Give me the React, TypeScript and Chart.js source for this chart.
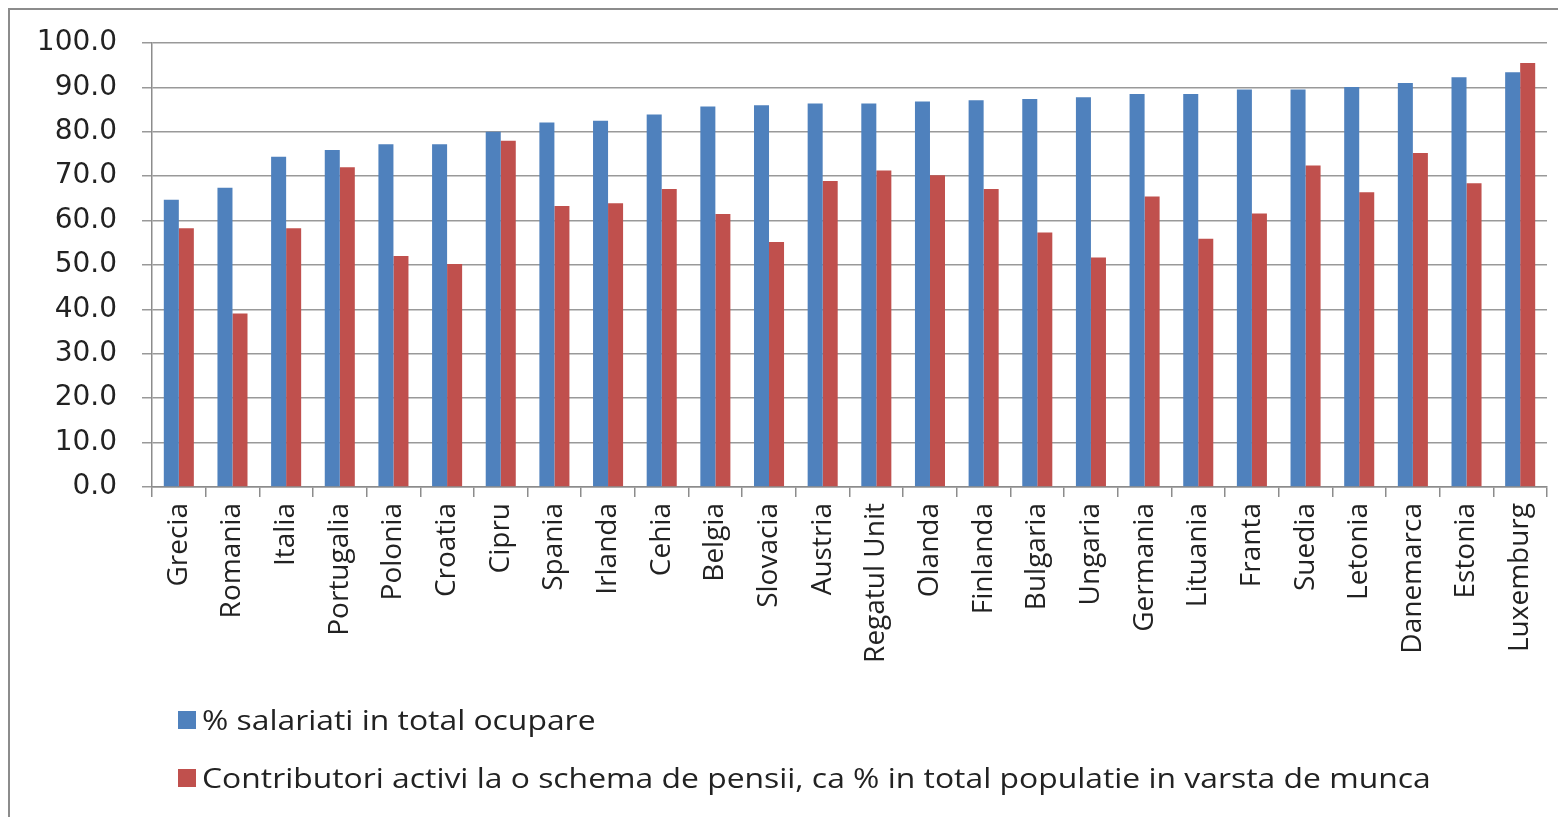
import React, { useEffect, useRef } from "react";
import { Chart, registerables } from "chart.js";

Chart.register(...registerables);

const categories = ["Grecia","Romania","Italia","Portugalia","Polonia","Croatia","Cipru","Spania","Irlanda","Cehia","Belgia","Slovacia","Austria","Regatul Unit","Olanda","Finlanda","Bulgaria","Ungaria","Germania","Lituania","Franta","Suedia","Letonia","Danemarca","Estonia","Luxemburg"];
const salariati = [64.7,67.4,74.4,75.9,77.2,77.2,80.0,82.1,82.5,83.9,85.7,86.0,86.4,86.4,86.8,87.1,87.4,87.8,88.5,88.5,89.5,89.5,90.1,91.0,92.3,93.4];
const contributori = [58.3,39.1,58.3,72.0,52.0,50.2,78.0,63.3,63.9,67.1,61.5,55.2,68.9,71.3,70.2,67.1,57.3,51.7,65.4,55.9,61.6,72.4,66.4,75.2,68.4,95.5];
const seriesNames = ["% salariati in total ocupare","Contributori activi la o schema de pensii, ca % in total populatie in varsta de munca"];
const colors = ["#4F81BD","#C0504D"];

export default function App() {
  const ref = useRef<HTMLCanvasElement>(null);
  useEffect(() => {
    if (!ref.current) return;
    const chart = new Chart(ref.current, {
      type: "bar",
      data: {
        labels: categories,
        datasets: [
          { label: seriesNames[0], data: salariati, backgroundColor: colors[0], barPercentage: 1, categoryPercentage: 0.56 },
          { label: seriesNames[1], data: contributori, backgroundColor: colors[1], barPercentage: 1, categoryPercentage: 0.56 },
        ],
      },
      options: {
        responsive: false,
        animation: false,
        layout: { padding: { top: 33, right: 7, left: 0, bottom: 0 } },
        plugins: { legend: { display: false }, tooltip: { enabled: false } },
        scales: {
          x: {
            grid: { display: true, drawOnChartArea: false, drawTicks: true, tickLength: 10, color: "#8c8c8c", lineWidth: 1.5 },
            border: { color: "#8c8c8c", width: 1.5 },
            ticks: { minRotation: 90, maxRotation: 90, autoSkip: false, color: "#222", padding: 6, font: { family: "'Open Sans', sans-serif", size: 28 } },
            afterFit: (s: any) => { s.height = 213; s.paddingLeft = 0; s.paddingRight = 0; },
          },
          y: {
            min: 0, max: 100,
            grid: { color: "#999", lineWidth: 1.5, tickLength: 10 },
            border: { color: "#8c8c8c", width: 1.5 },
            ticks: { stepSize: 10, color: "#222", padding: 25, font: { family: "'DejaVu Sans', sans-serif", size: 28 }, callback: (v: any) => Number(v).toFixed(1) },
            afterFit: (s: any) => { s.width = 142; s.paddingTop = 0; s.paddingBottom = 0; },
          },
        },
      },
    });
    return () => chart.destroy();
  }, []);
  return (
    <div style={{ position: "relative", width: 1560, height: 812, borderTop: "2px solid #8c8c8c", borderLeft: "2px solid #8c8c8c", background: "#fff", overflow: "hidden" }}>
      <canvas ref={ref} width={1544} height={690} style={{ position: "absolute", left: 0, top: 0 }} />
      <div style={{ position: "absolute", left: 168, top: 681, fontFamily: "'Open Sans', sans-serif", fontSize: 27, color: "#222", lineHeight: "58px", whiteSpace: "nowrap" }}>
        {seriesNames.map((n, i) => (
          <div key={i} style={{ display: "flex", alignItems: "center" }}>
            <span style={{ display: "inline-block", width: 18, height: 18, background: colors[i], marginRight: 6 }} />
            <span style={{ display: "inline-block", transform: "scaleX(1.18)", transformOrigin: "left center" }}>{n}</span>
          </div>
        ))}
      </div>
    </div>
  );
}
